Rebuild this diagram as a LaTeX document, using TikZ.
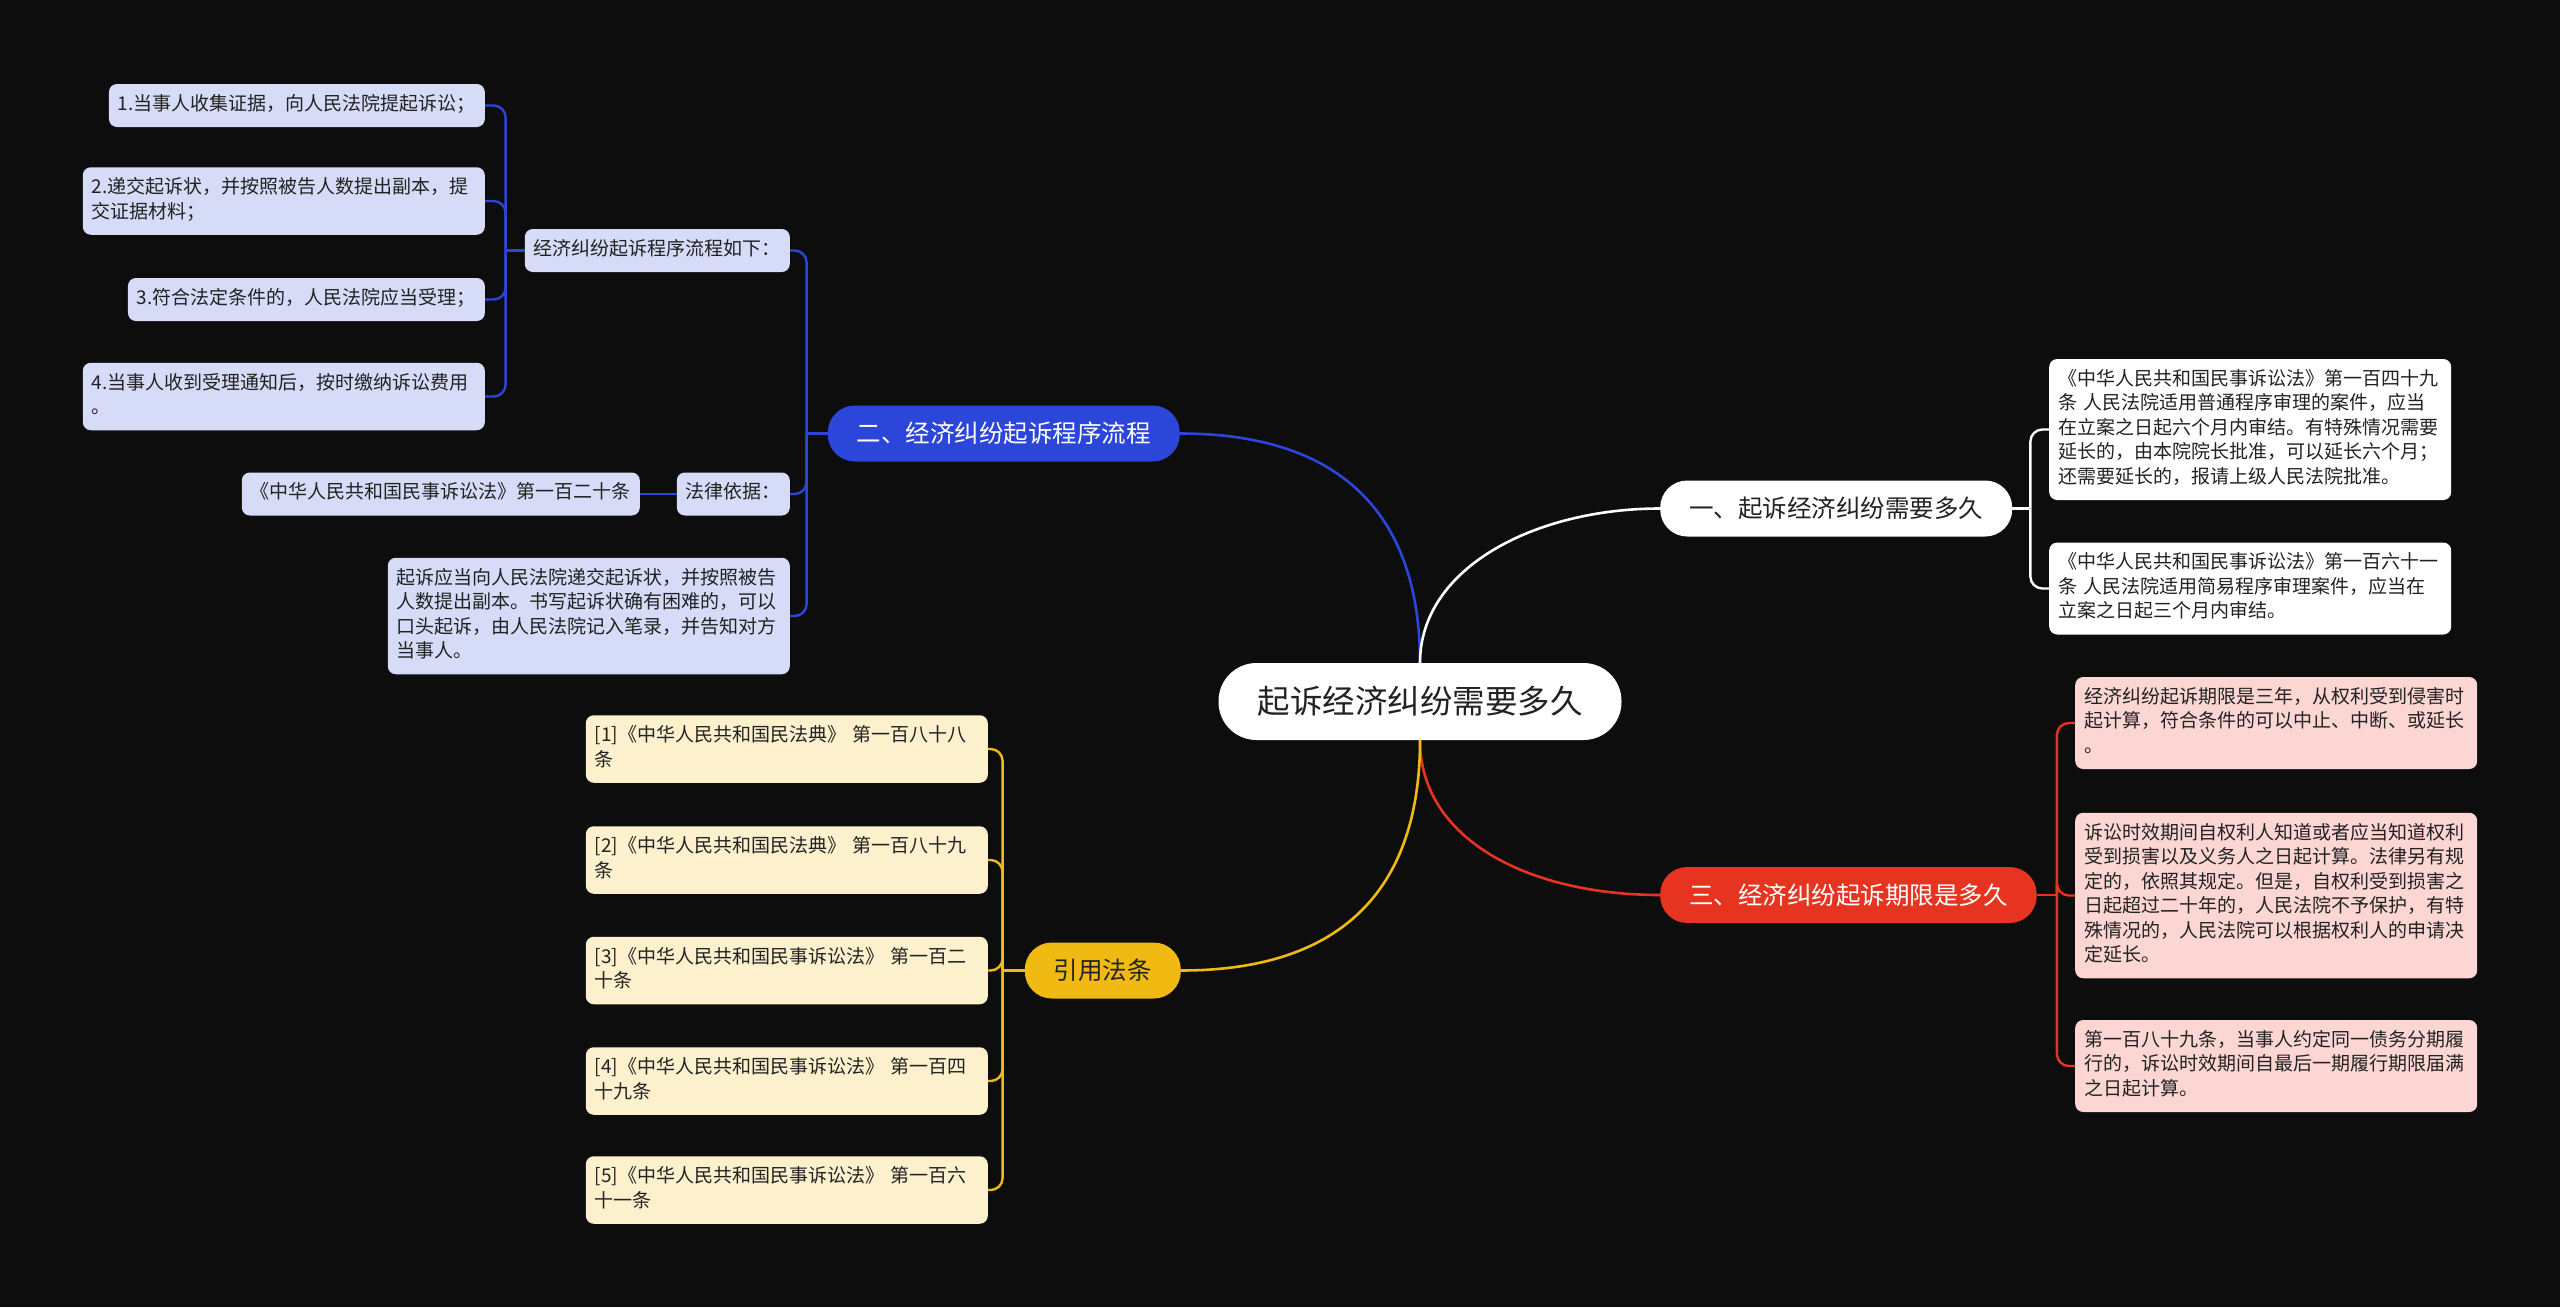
\documentclass[tikz,border=0pt]{standalone}
\usepackage{fontspec}
\setmainfont{Noto Sans CJK SC}
\usepackage{tikz}
\usetikzlibrary{positioning, calc}
\definecolor{bgdark}{RGB}{13,13,13}
\definecolor{royal}{RGB}{43,70,216}
\definecolor{lavender}{RGB}{214,219,247}
\definecolor{scarlet}{RGB}{230,52,32}
\definecolor{blush}{RGB}{252,214,211}
\definecolor{amber}{RGB}{240,186,18}
\definecolor{cream}{RGB}{253,240,205}
\definecolor{inkgray}{RGB}{34,34,34}

\begin{document}
\begin{tikzpicture}[
    x=1pt, y=1pt,
    root/.style={fill=white, text=inkgray, rounded corners=38pt, inner xsep=39pt, inner ysep=0pt, minimum height=77pt, font=\fontsize{32.5}{40}\selectfont},
    topic/.style={rounded corners=27pt, inner xsep=29pt, inner ysep=0pt, minimum height=56pt, font=\fontsize{24.5}{30}\selectfont},
    leaf/.style={rounded corners=8pt, inner xsep=9pt, inner ysep=9.25pt, text=inkgray, font=\fontsize{19}{24.5}\selectfont,
                 execute at begin node=\strut, execute at end node=\strut},
    wide/.style={leaf, text width=384pt, align=left},
    link/.style={line width=2.6pt},
    fork/.style={line width=2.4pt, rounded corners=12pt}
]
\fill[bgdark] (0,0) rectangle (2560,-1307);
\useasboundingbox (0,0) rectangle (2560,-1307);

\node[root] (c) at (1420,-701.5) {起诉经济纠纷需要多久};
\node[topic, fill=royal, text=white, anchor=east] (bm) at (1180,-433.5) {二、经济纠纷起诉程序流程};
\node[topic, fill=white, text=inkgray, anchor=west] (wm) at (1660,-508.5) {一、起诉经济纠纷需要多久};
\node[topic, fill=scarlet, text=white, anchor=west] (rm) at (1660,-895) {三、经济纠纷起诉期限是多久};
\node[topic, fill=amber, text=inkgray, anchor=east] (ym) at (1181,-970.5) {引用法条};

\node[leaf, fill=lavender, anchor=east] (b1) at (790,-250.5) {经济纠纷起诉程序流程如下：};
\node[leaf, fill=lavender, anchor=east] (b2) at (790,-494) {法律依据：};
\node[wide, fill=lavender, anchor=east] (b3) at (790,-616) {起诉应当向人民法院递交起诉状，并按照被告\\人数提出副本。书写起诉状确有困难的，可以\\口头起诉，由人民法院记入笔录，并告知对方\\当事人。};
\node[leaf, fill=lavender, anchor=east] (b11) at (485,-105.5) {1.当事人收集证据，向人民法院提起诉讼；};
\node[wide, fill=lavender, anchor=east] (b12) at (485,-201) {2.递交起诉状，并按照被告人数提出副本，提\\交证据材料；};
\node[leaf, fill=lavender, anchor=east] (b13) at (485,-299.5) {3.符合法定条件的，人民法院应当受理；};
\node[wide, fill=lavender, anchor=east] (b14) at (485,-396.5) {4.当事人收到受理通知后，按时缴纳诉讼费用\\。};
\node[leaf, fill=lavender, anchor=east] (b21) at (640,-494) {《中华人民共和国民事诉讼法》第一百二十条};

\node[wide, fill=white, anchor=west] (w1) at (2049,-429.5) {《中华人民共和国民事诉讼法》第一百四十九\\条 人民法院适用普通程序审理的案件，应当\\在立案之日起六个月内审结。有特殊情况需要\\延长的，由本院院长批准，可以延长六个月；\\还需要延长的，报请上级人民法院批准。};
\node[wide, fill=white, anchor=west] (w2) at (2049,-588.5) {《中华人民共和国民事诉讼法》第一百六十一\\条 人民法院适用简易程序审理案件，应当在\\立案之日起三个月内审结。};

\node[wide, fill=blush, anchor=west] (r1) at (2075,-723) {经济纠纷起诉期限是三年，从权利受到侵害时\\起计算，符合条件的可以中止、中断、或延长\\。};
\node[wide, fill=blush, anchor=west] (r2) at (2075,-895.5) {诉讼时效期间自权利人知道或者应当知道权利\\受到损害以及义务人之日起计算。法律另有规\\定的，依照其规定。但是，自权利受到损害之\\日起超过二十年的，人民法院不予保护，有特\\殊情况的，人民法院可以根据权利人的申请决\\定延长。};
\node[wide, fill=blush, anchor=west] (r3) at (2075,-1066) {第一百八十九条，当事人约定同一债务分期履\\行的，诉讼时效期间自最后一期履行期限届满\\之日起计算。};

\node[wide, fill=cream, anchor=east] (y1) at (988,-749) {[1]《中华人民共和国民法典》 第一百八十八\\条};
\node[wide, fill=cream, anchor=east] (y2) at (988,-860) {[2]《中华人民共和国民法典》 第一百八十九\\条};
\node[wide, fill=cream, anchor=east] (y3) at (988,-970.5) {[3]《中华人民共和国民事诉讼法》 第一百二\\十条};
\node[wide, fill=cream, anchor=east] (y4) at (988,-1081) {[4]《中华人民共和国民事诉讼法》 第一百四\\十九条};
\node[wide, fill=cream, anchor=east] (y5) at (988,-1190) {[5]《中华人民共和国民事诉讼法》 第一百六\\十一条};

\draw[link, royal] (c.north) .. controls +(0,109) and +(197,0) .. (bm.east);
\draw[link, white] (c.north) .. controls +(0,95) and +(-125,0) .. (wm.west);
\draw[link, scarlet] (c.south) .. controls +(0,-100) and +(-130,0) .. (rm.west);
\draw[link, amber] (c.south) .. controls +(0,-109) and +(197,0) .. (ym.east);

\coordinate (bt) at ([xshift=-21pt]bm.west);
\draw[fork, royal] (bm.west) -- (bt);
\foreach \n in {b1,b2,b3} \draw[fork, royal] (bt) |- (\n.east);
\coordinate (b1t) at ([xshift=-19pt]b1.west);
\draw[fork, royal] (b1.west) -- (b1t);
\foreach \n in {b11,b12,b13,b14} \draw[fork, royal] (b1t) |- (\n.east);
\draw[fork, royal] (b2.west) -- (b21.east);

\coordinate (wt) at ([xshift=18pt]wm.east);
\draw[fork, white] (wm.east) -- (wt);
\foreach \n in {w1,w2} \draw[fork, white] (wt) |- (\n.west);

\coordinate (rt) at ([xshift=20pt]rm.east);
\draw[fork, scarlet] (rm.east) -- (rt);
\foreach \n in {r1,r2,r3} \draw[fork, scarlet] (rt) |- (\n.west);

\coordinate (yt) at ([xshift=-22pt]ym.west);
\draw[fork, amber] (ym.west) -- (yt);
\foreach \n in {y1,y2,y3,y4,y5} \draw[fork, amber] (yt) |- (\n.east);
\end{tikzpicture}
\end{document}
